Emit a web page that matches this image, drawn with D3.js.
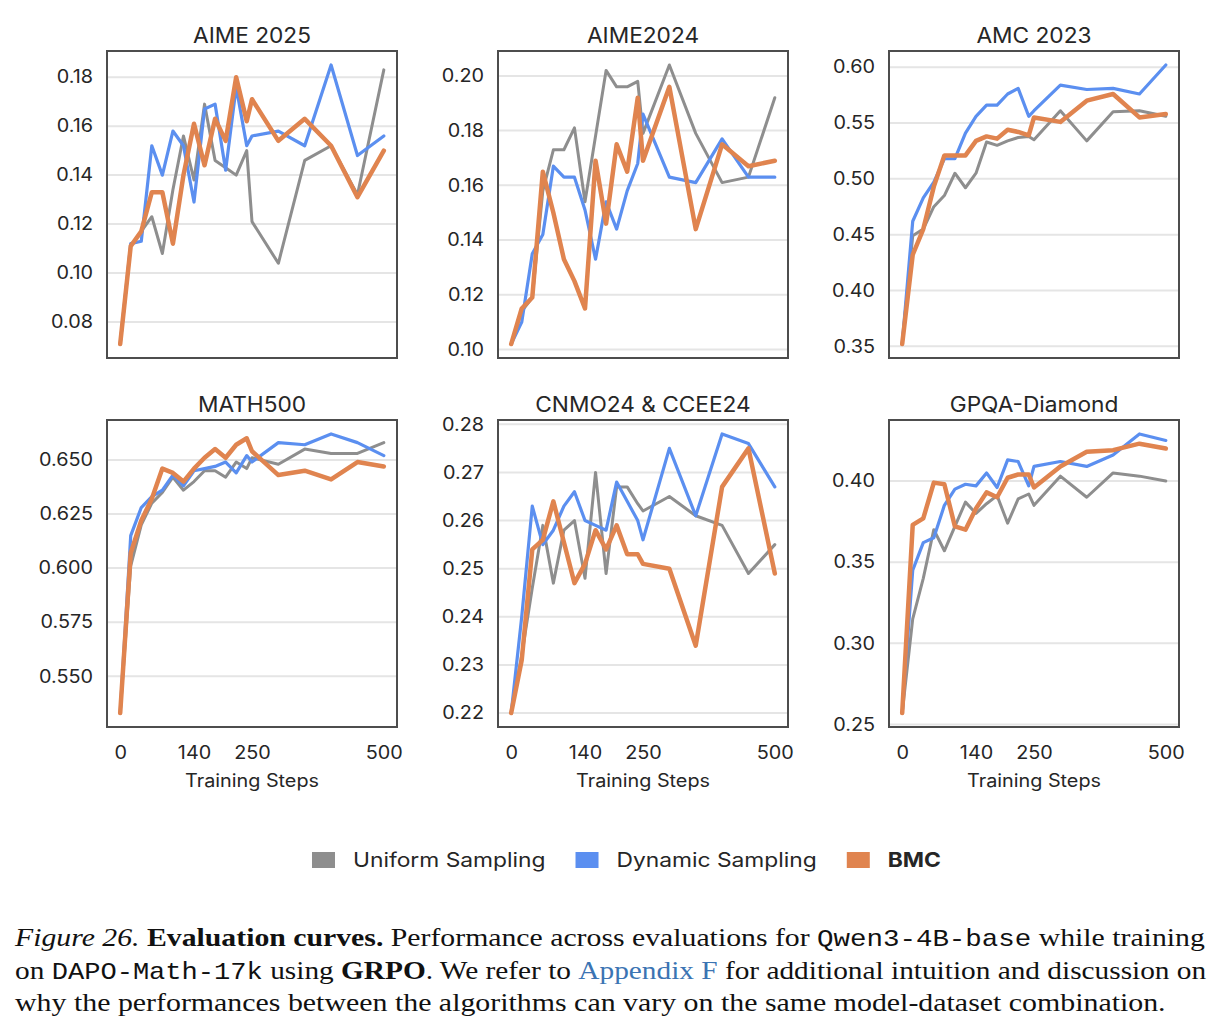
<!DOCTYPE html>
<html lang="en">
<head>
<meta charset="UTF-8">
<title>Evaluation curves</title>
<script src="https://d3js.org/d3.v7.min.js"></script>
<style>
  body { margin: 0; background: #fff; }
  svg { display: block; }
  .tick-label { font-family: Inter, "Noto Sans", sans-serif; font-size: 18px; fill: #262626; }
  .panel-title { font-family: Inter, "Noto Sans", sans-serif; font-size: 21px; fill: #262626; }
  .axis-label { font-family: Inter, "Noto Sans", sans-serif; font-size: 18px; fill: #262626; }
  .grid line { stroke: #e5e5e5; stroke-width: 2; }
  .frame { fill: none; stroke: #4d4d4d; stroke-width: 2; }
  .series { fill: none; stroke-linejoin: round; stroke-linecap: round; }
  .caption { font-family: "Liberation Serif", "Times New Roman", serif; font-size: 26px; fill: #111; }
  .mono { font-family: "Liberation Mono", "DejaVu Sans Mono", monospace; font-size: 24px; }
</style>
</head>
<body>
<svg width="1221" height="1035"></svg>
<script>
// training steps shared by every panel
const steps = [0, 20, 40, 60, 80, 100, 120, 140, 160, 180, 200, 220, 240, 250, 300, 350, 400, 450, 500];
const xTicks = [0, 140, 250, 500];

const seriesNames = ["Uniform Sampling", "Dynamic Sampling", "BMC"];
const seriesColors = ["#8e8e8e", "#5b8ff0", "#e0844f"];
const seriesWidths = [3, 3.2, 4.5];

// AIME 2025
const aime25Uniform = [0.071, 0.111, 0.117, 0.123, 0.108, 0.134, 0.156, 0.138, 0.169, 0.146, 0.143, 0.140, 0.150, 0.121, 0.104, 0.146, 0.152, 0.132, 0.183];
const aime25Dynamic = [0.071, 0.112, 0.113, 0.152, 0.140, 0.158, 0.152, 0.129, 0.167, 0.169, 0.142, 0.176, 0.152, 0.156, 0.158, 0.152, 0.185, 0.148, 0.156];
const aime25BMC     = [0.071, 0.111, 0.117, 0.133, 0.133, 0.112, 0.140, 0.161, 0.144, 0.163, 0.154, 0.180, 0.162, 0.171, 0.154, 0.163, 0.152, 0.131, 0.150];

// AIME2024
const aime24Uniform = [0.102, 0.114, 0.119, 0.158, 0.173, 0.173, 0.181, 0.154, 0.178, 0.202, 0.196, 0.196, 0.198, 0.179, 0.204, 0.179, 0.161, 0.163, 0.192];
const aime24Dynamic = [0.102, 0.110, 0.135, 0.142, 0.167, 0.163, 0.163, 0.151, 0.133, 0.154, 0.144, 0.158, 0.168, 0.186, 0.163, 0.161, 0.177, 0.163, 0.163];
const aime24BMC     = [0.102, 0.115, 0.119, 0.165, 0.150, 0.133, 0.125, 0.115, 0.169, 0.146, 0.175, 0.165, 0.192, 0.169, 0.196, 0.144, 0.175, 0.167, 0.169];

// AMC 2023
const amc23Uniform = [0.352, 0.449, 0.455, 0.475, 0.485, 0.505, 0.492, 0.505, 0.533, 0.530, 0.534, 0.537, 0.538, 0.535, 0.561, 0.534, 0.560, 0.561, 0.556];
const amc23Dynamic = [0.352, 0.462, 0.483, 0.497, 0.518, 0.518, 0.541, 0.556, 0.566, 0.566, 0.576, 0.581, 0.556, 0.561, 0.584, 0.580, 0.581, 0.576, 0.602];
const amc23BMC     = [0.352, 0.432, 0.455, 0.493, 0.521, 0.521, 0.521, 0.534, 0.538, 0.536, 0.544, 0.542, 0.539, 0.555, 0.551, 0.570, 0.576, 0.555, 0.558];

// MATH500
const math500Uniform = [0.533, 0.601, 0.620, 0.630, 0.635, 0.642, 0.636, 0.640, 0.645, 0.645, 0.642, 0.649, 0.646, 0.651, 0.648, 0.655, 0.653, 0.653, 0.658];
const math500Dynamic = [0.533, 0.615, 0.628, 0.633, 0.636, 0.643, 0.638, 0.645, 0.646, 0.647, 0.649, 0.644, 0.652, 0.649, 0.658, 0.657, 0.662, 0.658, 0.652];
const math500BMC     = [0.533, 0.607, 0.622, 0.632, 0.646, 0.644, 0.640, 0.646, 0.651, 0.655, 0.651, 0.657, 0.660, 0.654, 0.643, 0.645, 0.641, 0.649, 0.647];

// CNMO24 & CCEE24
const cnmoUniform = [0.220, 0.232, 0.246, 0.259, 0.247, 0.258, 0.260, 0.248, 0.270, 0.249, 0.267, 0.267, 0.2635, 0.262, 0.265, 0.261, 0.259, 0.249, 0.255];
const cnmoDynamic = [0.220, 0.240, 0.263, 0.255, 0.258, 0.263, 0.266, 0.260, 0.259, 0.258, 0.268, 0.264, 0.260, 0.256, 0.275, 0.261, 0.278, 0.276, 0.267];
const cnmoBMC     = [0.220, 0.231, 0.254, 0.256, 0.264, 0.2555, 0.247, 0.251, 0.258, 0.254, 0.259, 0.253, 0.253, 0.251, 0.250, 0.234, 0.267, 0.275, 0.249];

// GPQA-Diamond
const gpqaUniform = [0.257, 0.315, 0.340, 0.370, 0.357, 0.372, 0.387, 0.380, 0.386, 0.391, 0.374, 0.389, 0.392, 0.385, 0.403, 0.390, 0.405, 0.403, 0.400];
const gpqaDynamic = [0.257, 0.345, 0.362, 0.365, 0.385, 0.395, 0.398, 0.397, 0.405, 0.396, 0.413, 0.412, 0.397, 0.409, 0.412, 0.409, 0.416, 0.429, 0.425];
const gpqaBMC     = [0.257, 0.373, 0.377, 0.399, 0.398, 0.372, 0.370, 0.383, 0.393, 0.390, 0.402, 0.404, 0.404, 0.396, 0.409, 0.418, 0.419, 0.423, 0.420];

const panels = [
  { title: "AIME 2025", data: [aime25Uniform, aime25Dynamic, aime25BMC], yTicks: [0.08, 0.10, 0.12, 0.14, 0.16, 0.18], fmt: ".2f" },
  { title: "AIME2024", data: [aime24Uniform, aime24Dynamic, aime24BMC], yTicks: [0.10, 0.12, 0.14, 0.16, 0.18, 0.20], fmt: ".2f" },
  { title: "AMC 2023", data: [amc23Uniform, amc23Dynamic, amc23BMC], yTicks: [0.35, 0.40, 0.45, 0.50, 0.55, 0.60], fmt: ".2f" },
  { title: "MATH500", data: [math500Uniform, math500Dynamic, math500BMC], yTicks: [0.550, 0.575, 0.600, 0.625, 0.650], fmt: ".3f" },
  { title: "CNMO24 & CCEE24", data: [cnmoUniform, cnmoDynamic, cnmoBMC], yTicks: [0.22, 0.23, 0.24, 0.25, 0.26, 0.27, 0.28], fmt: ".2f" },
  { title: "GPQA-Diamond", data: [gpqaUniform, gpqaDynamic, gpqaBMC], yTicks: [0.25, 0.30, 0.35, 0.40], fmt: ".2f" }
];

const svg = d3.select("svg");
svg.append("rect").attr("width", 1221).attr("height", 1035).attr("fill", "#fff");

// the reference type is a bit wider than Inter, stretch it around its anchor
function widen(sel, k) {
  sel.each(function () {
    const ax = +(this.getAttribute("x") || 0);
    d3.select(this).attr("transform", `translate(${ax},0) scale(${k},1) translate(${-ax},0)`);
  });
}

const colX = [107, 498, 889], rowY = [51, 420];
const pw = 290, ph = 307;

panels.forEach((p, i) => {
  const col = i % 3, row = Math.floor(i / 3);
  const g = svg.append("g").attr("transform", `translate(${colX[col]},${rowY[row]})`);

  // matplotlib-like 5% margins around the data
  const all = p.data.flat();
  const [lo, hi] = d3.extent(all);
  const pad = (hi - lo) * 0.05;
  const x = d3.scaleLinear().domain([-25, 525]).range([0, pw]);
  const y = d3.scaleLinear().domain([lo - pad, hi + pad]).range([ph, 0]);

  g.append("g").attr("class", "grid")
    .selectAll("line").data(p.yTicks).join("line")
    .attr("x1", 0).attr("x2", pw)
    .attr("y1", d => y(d)).attr("y2", d => y(d));

  const yAxis = d3.axisLeft(y).tickValues(p.yTicks).tickFormat(d3.format(p.fmt)).tickSize(0).tickPadding(14);
  const ya = g.append("g").call(yAxis);
  ya.select(".domain").remove();
  ya.selectAll("text").attr("class", "tick-label").attr("font-family", null).attr("font-size", null)
    .call(widen, 1.1);

  if (row === 1) {
    const xAxis = d3.axisBottom(x).tickValues(xTicks).tickSize(0).tickPadding(19);
    const xa = g.append("g").attr("transform", `translate(0,${ph})`).call(xAxis);
    xa.select(".domain").remove();
    xa.selectAll("text").attr("class", "tick-label").attr("font-family", null).attr("font-size", null)
      .call(widen, 1.1);
    g.append("text").attr("class", "axis-label")
      .attr("x", pw / 2).attr("y", ph + 60)
      .attr("text-anchor", "middle")
      .text("Training Steps")
      .call(widen, 1.1);
  }

  const line = d3.line().x((d, j) => x(steps[j])).y(d => y(d));
  p.data.forEach((vals, s) => {
    g.append("path").datum(vals)
      .attr("class", "series")
      .attr("stroke", seriesColors[s])
      .attr("stroke-width", seriesWidths[s])
      .attr("d", line);
  });

  g.append("rect").attr("class", "frame").attr("width", pw).attr("height", ph);

  g.append("text").attr("class", "panel-title")
    .attr("x", pw / 2).attr("y", -8)
    .attr("text-anchor", "middle")
    .text(p.title)
    .call(widen, 1.08);
});

// legend
const legend = svg.append("g").attr("transform", "translate(312,860)");
let lx = 0;
seriesNames.forEach((name, i) => {
  legend.append("rect").attr("x", lx).attr("y", -8).attr("width", 23).attr("height", 16).attr("fill", seriesColors[i]);
  const t = legend.append("text")
    .attr("x", lx + 41).attr("y", 7)
    .attr("font-family", "Inter, 'Noto Sans', sans-serif")
    .attr("font-size", 20)
    .attr("font-weight", i === 2 ? 700 : 400)
    .attr("fill", "#262626")
    .text(name)
    .call(widen, 1.14);
  lx += 41 + t.node().getComputedTextLength() * 1.14 + 30;
});

// caption
const captionLines = [
  { y: 946, width: 1190, parts: [
    { t: "Figure 26.", s: "italic" }, { t: " " }, { t: "Evaluation curves.", w: "bold" },
    { t: " Performance across evaluations for " }, { t: "Qwen3-4B-base", m: true }, { t: " while training" }] },
  { y: 979, width: 1190, parts: [
    { t: "on " }, { t: "DAPO-Math-17k", m: true }, { t: " using " }, { t: "GRPO", w: "bold" },
    { t: ". We refer to " }, { t: "Appendix F", c: "#3b74b3" }, { t: " for additional intuition and discussion on" }] },
  { y: 1011, width: 1151, parts: [
    { t: "why the performances between the algorithms can vary on the same model-dataset combination." }] }
];

captionLines.forEach(l => {
  const txt = svg.append("text").attr("class", "caption").attr("xml:space", "preserve");
  l.parts.forEach(p => {
    const ts = txt.append("tspan").text(p.t);
    if (p.s) ts.attr("font-style", p.s);
    if (p.w) ts.attr("font-weight", p.w);
    if (p.m) ts.attr("class", "mono");
    if (p.c) ts.attr("fill", p.c);
  });
  const natural = txt.node().getComputedTextLength();
  txt.attr("transform", `translate(15,${l.y}) scale(${l.width / natural},1)`);
});
</script>
</body>
</html>
